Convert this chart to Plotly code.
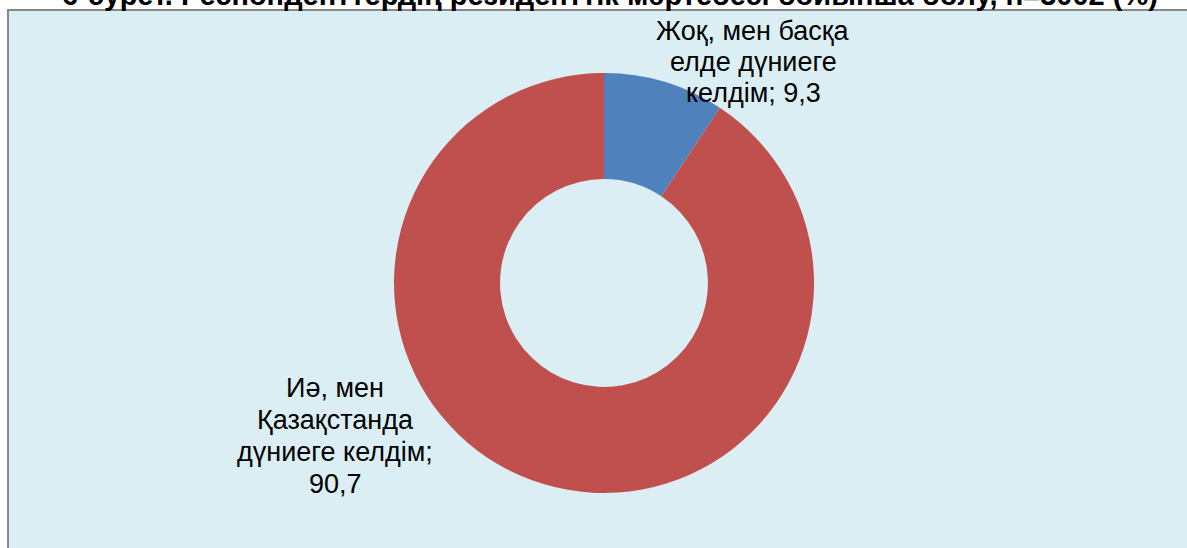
import plotly.graph_objects as go

# Data
labels = ["Жоқ, мен басқа елде дүниеге келдім", "Иә, мен Қазақстанда дүниеге келдім"]
label_lines = [["Жоқ, мен басқа", "елде дүниеге", "келдім;"], ["Иә, мен", "Қазақстанда", "дүниеге келдім;"]]
values = [9.3, 90.7]
colors = ["#4F81BD", "#C0504D"]
title_text = "6-сурет. Респонденттердің резиденттік мәртебесі бойынша бөлу, n=3002 (%)"

W, H = 1187, 548

def fmt(v):
    return f"{v:.1f}".replace(".", ",")

fig = go.Figure()
fig.add_trace(go.Pie(
    labels=labels, values=values, hole=0.495, sort=False,
    direction="clockwise", rotation=0,
    marker=dict(colors=colors, line=dict(width=0)),
    textinfo="none", hoverinfo="label+value", showlegend=False,
    domain=dict(x=[(604 - 210) / W, (604 + 210) / W], y=[(H - 283 - 210) / H, (H - 283 + 210) / H]),
))

# label lines built from data
lines0 = label_lines[0][:2] + [label_lines[0][2] + " " + fmt(values[0])]
lines1 = label_lines[1] + [fmt(values[1])]

font = dict(family="Liberation Sans, Arial, sans-serif", size=27, color="#000000")
annotations = []
for i, t in enumerate(lines0):
    annotations.append(dict(text=t, x=753 / W, y=(H - (31 + 31 * i)) / H, xref="paper", yref="paper",
                            showarrow=False, xanchor="center", yanchor="middle", font=font))
for i, t in enumerate(lines1):
    annotations.append(dict(text=t, x=335 / W, y=(H - (388 + 32 * i)) / H, xref="paper", yref="paper",
                            showarrow=False, xanchor="center", yanchor="middle", font=font))
annotations.append(dict(text="<b>" + title_text + "</b>", x=610 / W, y=(H + 5) / H,
                        xref="paper", yref="paper", showarrow=False,
                        xanchor="center", yanchor="middle",
                        font=dict(family="Liberation Sans, Arial, sans-serif", size=29, color="#000000")))

fig.update_layout(
    width=W, height=H,
    margin=dict(l=0, r=0, t=0, b=0),
    paper_bgcolor="#FFFFFF", plot_bgcolor="#FFFFFF",
    shapes=[dict(type="rect", xref="paper", yref="paper",
                 x0=8 / W, x1=1.05, y0=-0.05, y1=(H - 10) / H,
                 fillcolor="#DAEEF3", line=dict(color="#888888", width=2), layer="below")],
    annotations=annotations,
)

fig.write_html("out.html", config={"displayModeBar": False},
               post_script="document.body.style.margin='0';document.body.style.overflow='hidden';")
